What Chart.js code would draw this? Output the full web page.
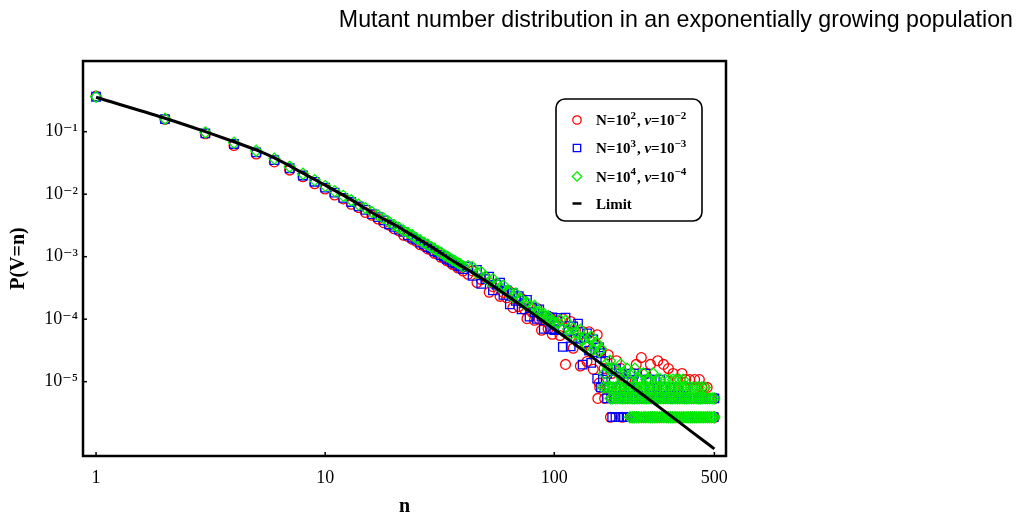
<!DOCTYPE html>
<html>
<head>
<meta charset="utf-8">
<script src="https://cdn.jsdelivr.net/npm/chart.js@4.4.1/dist/chart.umd.min.js"></script>
<style>
  html, body { margin: 0; padding: 0; background: #fff; }
  #wrap { width: 1030px; height: 517px; position: relative; }
</style>
</head>
<body>
<div id="wrap"><canvas id="chart"></canvas></div>
<script>
// axis ticks
const xTicks = [1, 10, 100, 500];
const xTickLabels = ['1', '10', '100', '500'];
const yTicks = [1e-1, 1e-2, 1e-3, 1e-4, 1e-5];
const yTickLabels = ['10\u207B\u00B9', '10\u207B\u00B2', '10\u207B\u00B3', '10\u207B\u2074', '10\u207B\u2075'];

// limit curve
const limitN = [1, 2, 3, 4, 5, 6, 8, 10, 13, 17, 20, 25, 30, 35, 40, 50, 60, 70, 80, 100, 120, 150, 200, 250, 300, 400, 500];
const limitP = [0.355, 0.164, 0.100, 0.069, 0.051, 0.038, 0.0217, 0.0139, 0.0081, 0.00447, 0.00327, 0.0020, 0.00134, 0.00092, 0.000685,
  0.000414, 0.000262, 0.000177, 0.000125, 6.9e-5, 4.25e-5, 2.32e-5, 1.06e-5, 5.75e-6, 3.48e-6, 1.56e-6, 8.4e-7];

// simulated points, n = 1..40
const nHead = [1, 2, 3, 4, 5, 6, 7, 8, 9, 10, 11, 12, 13, 14, 15, 16, 17, 18, 19, 20,
  21, 22, 23, 24, 25, 26, 27, 28, 29, 30, 31, 32, 33, 34, 35, 36, 37, 38, 39, 40];
const redHead = [0.370, 0.157, 0.0925, 0.0600, 0.0440, 0.0328, 0.0243, 0.0190, 0.0147, 0.0121, 0.0097, 0.0084, 0.0069, 0.0061, 0.0051,
  0.0046, 0.0040, 0.0035, 0.0032, 0.0028, 0.0026, 0.0022, 0.0021, 0.0019, 0.00176, 0.00155, 0.00149, 0.00133, 0.00127, 0.00113,
  0.00109, 0.00098, 0.00095, 0.00086, 0.00083, 0.00075, 0.00073, 0.00066, 0.00065, 0.00059];
const blueHead = [0.362, 0.159, 0.094, 0.0635, 0.0468, 0.0350, 0.0260, 0.0199, 0.0158, 0.0127, 0.0106, 0.0087, 0.0075, 0.0064, 0.0056,
  0.0048, 0.0043, 0.0038, 0.0033, 0.0030, 0.0027, 0.0025, 0.0022, 0.0020, 0.00188, 0.00168, 0.00158, 0.00142, 0.00136, 0.00122,
  0.00117, 0.00106, 0.00101, 0.00092, 0.00089, 0.00081, 0.00078, 0.00071, 0.00070, 0.00063];
const greenHead = [0.362, 0.161, 0.097, 0.0668, 0.0495, 0.0371, 0.0275, 0.0212, 0.0168, 0.0136, 0.0112, 0.0094, 0.0080, 0.0068, 0.0060,
  0.0052, 0.0046, 0.0041, 0.0036, 0.0032, 0.0029, 0.0026, 0.0024, 0.0022, 0.00198, 0.00182, 0.00167, 0.00156, 0.00143, 0.00133,
  0.00124, 0.00116, 0.00107, 0.00101, 0.00095, 0.00089, 0.00084, 0.00079, 0.00075, 0.00070];

// n = 42..100
const nMid = [42, 44, 46, 48, 50, 52, 54, 56, 58, 60, 62, 64, 66, 68, 70, 72, 74, 76, 78, 80, 82, 84, 86, 88, 90, 92, 94, 96, 98, 100];
const redMid = [5.24e-4, 5.92e-4, 3.87e-4, 4.30e-4, 4.69e-4, 2.70e-4, 3.31e-4, 3.65e-4, 2.32e-4, 2.68e-4, 2.20e-4, 2.74e-4, 1.53e-4, 2.10e-4, 1.59e-4,
  2.13e-4, 1.44e-4, 1.02e-4, 1.55e-4, 1.29e-4, 9.6e-5, 1.50e-4, 9.96e-5, 6.65e-5, 1.11e-4, 9.37e-5, 7.04e-5, 1.08e-4, 5.75e-5, 7.87e-5];
const blueMid = [6.90e-4, 4.92e-4, 6.13e-4, 3.66e-4, 4.38e-4, 4.80e-4, 2.89e-4, 3.57e-4, 3.85e-4, 2.44e-4, 2.90e-4, 1.73e-4, 2.60e-4, 1.96e-4, 2.34e-4,
  1.44e-4, 1.81e-4, 2.03e-4, 1.10e-4, 1.55e-4, 1.30e-4, 1.01e-4, 1.44e-4, 1.10e-4, 7.02e-5, 1.13e-4, 9.94e-5, 6.96e-5, 1.07e-4, 6.70e-5];
const greenMid = [7.07e-4, 6.79e-4, 5.47e-4, 5.67e-4, 4.80e-4, 3.99e-4, 4.37e-4, 3.74e-4, 3.20e-4, 3.45e-4, 2.77e-4, 2.74e-4, 2.26e-4, 2.58e-4, 2.09e-4,
  2.08e-4, 1.73e-4, 1.85e-4, 1.62e-4, 1.45e-4, 1.63e-4, 1.30e-4, 1.31e-4, 1.21e-4, 1.22e-4, 9.81e-5, 1.115e-4, 9.39e-5, 9.53e-5, 8.63e-5];

// n = 103..160
const nUpper = [103, 106, 109, 112, 115, 118, 121, 124, 127, 130, 133, 136, 139, 142, 145, 148, 151, 154, 157, 160];
const redUpper = [9.38e-5, 5.48e-5, 1.015e-4, 1.89e-5, 6.22e-5, 9.20e-5, 3.43e-5, 6.40e-5, 4.25e-5, 1.78e-5,
  6.36e-5, 4.15e-5, 2.10e-5, 6.27e-5, 3.17e-5, 1.58e-5, 3.93e-5, 5.63e-5, 9.5e-6, 3.06e-5];
const blueUpper = [1.052e-4, 6.90e-5, 3.60e-5, 1.059e-4, 6.51e-5, 3.66e-5, 7.68e-5, 4.86e-5, 8.49e-5, 5.03e-5,
  1.88e-5, 4.99e-5, 5.93e-5, 3.14e-5, 2.00e-5, 4.76e-5, 2.98e-5, 1.12e-5, 3.54e-5, 2.85e-5];
const greenUpper = [8.75e-5, 9.75e-5, 6.86e-5, 9.44e-5, 6.98e-5, 5.80e-5, 7.17e-5, 6.12e-5, 4.25e-5, 6.78e-5,
  4.61e-5, 4.99e-5, 3.74e-5, 4.98e-5, 5.27e-5, 3.30e-5, 3.76e-5, 4.08e-5, 3.01e-5, 3.35e-5];

// tail above n = 160: scattered points, then the one/two/three-count rows
const redTailN = [165, 172, 178, 187, 195, 205, 228, 240, 251, 263, 283, 300, 315, 330, 345, 361, 375, 390, 410, 430];
const redTailP = [1.62e-5, 2.7e-5, 1.35e-5, 2.16e-5, 1.62e-5, 1.08e-5, 1.89e-5, 2.43e-5, 1.35e-5, 1.89e-5, 2.16e-5, 1.89e-5, 1.62e-5,
  1.35e-5, 1.08e-5, 1.35e-5, 1.08e-5, 1.08e-5, 1.08e-5, 1.08e-5];
const blueTailN = [163, 167, 170, 176, 182, 186, 195, 200, 210, 215, 223, 232, 240, 250, 258, 275, 290];
const blueTailP = [1.08e-5, 2.16e-5, 1.35e-5, 1.62e-5, 1.08e-5, 1.62e-5, 1.35e-5, 1.08e-5, 1.08e-5, 1.35e-5, 1.35e-5, 1.08e-5,
  1.08e-5, 1.35e-5, 1.08e-5, 1.08e-5, 1.08e-5];
const greenTailN = [165, 168, 172, 175, 180, 185, 190, 195, 199, 203, 208, 213, 218, 225, 232, 238, 245, 252, 262, 270, 280, 290,
  305, 318, 330, 340, 352, 365];
const greenTailP = [1.35e-5, 1.89e-5, 1.62e-5, 2.16e-5, 1.08e-5, 1.62e-5, 1.35e-5, 1.89e-5, 1.08e-5, 1.35e-5, 1.62e-5, 1.08e-5,
  1.35e-5, 1.62e-5, 1.08e-5, 1.08e-5, 1.35e-5, 1.08e-5, 1.08e-5, 1.35e-5, 1.08e-5, 1.08e-5, 1.08e-5, 1.08e-5, 1.08e-5, 1.08e-5,
  1.08e-5, 1.08e-5];

const tailLevels = [2.7e-6, 5.4e-6, 8.1e-6];
const redLevel1 = [176, 198, 221, 247, 266, 290, 311, 337, 359, 384, 412, 437, 463, 488, 500];
const redLevel2 = [155, 166, 184, 203, 219, 238, 257, 279, 301, 326, 350, 377, 404, 432, 458, 481, 499];
const redLevel3 = [158, 171, 192, 213, 244, 273, 298, 335, 368, 420, 441, 452, 465];
const blueLevel1 = [179, 185, 192, 200, 207, 214, 222, 229, 237, 245, 253, 261, 270, 279, 288, 297, 307, 317, 327, 338,
  349, 360, 372, 384, 397, 410, 423, 437, 451, 466, 481, 496];
const blueLevel2 = [170, 177, 183, 190, 196, 203, 210, 218, 226, 234, 242, 250, 259, 268, 277, 287, 297, 307, 318, 329,
  340, 352, 364, 376, 389, 402, 415, 429, 443, 458, 473, 488, 500];
const blueLevel3 = [160, 166, 172, 179, 186, 194, 202, 215, 230, 246, 262, 281, 300, 322, 347, 375];
const greenLevel1 = [214, 219, 224, 229, 234, 240, 246, 251, 257, 263, 269, 275, 281, 288, 294, 301, 308, 315, 322, 329,
  337, 344, 352, 360, 368, 376, 384, 393, 401, 410, 419, 428, 437, 447, 456, 466, 476, 486, 496, 500];
const greenLevel2 = [176, 180, 185, 189, 194, 199, 204, 209, 214, 219, 224, 230, 235, 241, 247, 253, 259, 265, 272, 278,
  285, 292, 299, 306, 313, 321, 329, 337, 345, 353, 361, 370, 379, 388, 397, 406, 416, 426, 436, 446, 457, 467, 478, 489, 500];
const greenLevel3 = [163, 167, 172, 176, 181, 186, 191, 196, 201, 207, 212, 218, 224, 230, 236, 243, 249, 256, 263, 270,
  278, 286, 294, 302, 311, 320, 329, 339, 349, 359, 370, 381, 392, 404, 416, 428, 441, 455];

const seriesLabels = ['N=10\u00B2, \u03BD=10\u207B\u00B2', 'N=10\u00B3, \u03BD=10\u207B\u00B3', 'N=10\u2074, \u03BD=10\u207B\u2074', 'Limit'];

const serif = "'Liberation Serif', 'DejaVu Serif', 'Times New Roman', serif";

function pairs(ns, ps) {
  return ns.map((n, i) => ({ x: n, y: ps[i] }));
}
function row(ns, p) {
  return ns.map(n => ({ x: n, y: p }));
}
function series(head, mid, upper, tailN, tailP, l1, l2, l3) {
  return [].concat(pairs(nHead, head), pairs(nMid, mid), pairs(nUpper, upper), pairs(tailN, tailP),
    row(l1, tailLevels[0]), row(l2, tailLevels[1]), row(l3, tailLevels[2]));
}

// legend text pieces: [text, kind] kind 0 normal, 1 superscript, 2 italic
const legendParts = [
  [['N=10', 0], ['2', 1], [', ', 0], ['\u03BD', 2], ['=10', 0], ['\u22122', 1]],
  [['N=10', 0], ['3', 1], [', ', 0], ['\u03BD', 2], ['=10', 0], ['\u22123', 1]],
  [['N=10', 0], ['4', 1], [', ', 0], ['\u03BD', 2], ['=10', 0], ['\u22124', 1]],
  [['Limit', 0]]
];

// frame, inward ticks and boxed legend
const decorations = {
  id: 'decorations',
  afterDraw(chart) {
    const { ctx, chartArea: a, scales } = chart;
    ctx.save();
    ctx.strokeStyle = '#000';
    ctx.lineWidth = 1.5;
    scales.y.ticks.forEach(t => {
      const py = scales.y.getPixelForValue(t.value);
      ctx.beginPath(); ctx.moveTo(a.left, py); ctx.lineTo(a.left + 4, py); ctx.stroke();
    });
    scales.x.ticks.forEach(t => {
      const px = scales.x.getPixelForValue(t.value);
      ctx.beginPath(); ctx.moveTo(px, a.bottom); ctx.lineTo(px, a.bottom - 4); ctx.stroke();
    });
    ctx.lineWidth = 2.5;
    ctx.strokeRect(a.left, a.top, a.right - a.left, a.bottom - a.top);

    // legend box
    const bx = 556, by = 99, bw = 146, bh = 122, r = 9;
    ctx.beginPath();
    ctx.moveTo(bx + r, by);
    ctx.arcTo(bx + bw, by, bx + bw, by + bh, r);
    ctx.arcTo(bx + bw, by + bh, bx, by + bh, r);
    ctx.arcTo(bx, by + bh, bx, by, r);
    ctx.arcTo(bx, by, bx + bw, by, r);
    ctx.closePath();
    ctx.fillStyle = '#fff';
    ctx.fill();
    ctx.lineWidth = 1.6;
    ctx.stroke();

    const rows = [120, 148, 176.5, 203.5];
    const mx = 577;
    chart.data.datasets.forEach((ds, i) => {
      const y = rows[i];
      ctx.lineWidth = 1.3;
      ctx.strokeStyle = ds.borderColor;
      ctx.beginPath();
      if (ds.pointStyle === 'circle') {
        ctx.arc(mx, y, 4.2, 0, Math.PI * 2);
      } else if (ds.pointStyle === 'rect') {
        ctx.rect(mx - 3.7, y - 3.7, 7.4, 7.4);
      } else if (ds.pointStyle === 'rectRot') {
        ctx.moveTo(mx, y - 4.7); ctx.lineTo(mx + 4.7, y); ctx.lineTo(mx, y + 4.7); ctx.lineTo(mx - 4.7, y); ctx.closePath();
      } else {
        ctx.lineWidth = 2.5;
        ctx.moveTo(mx - 4.5, y); ctx.lineTo(mx + 4.5, y);
      }
      ctx.stroke();

      let tx = 596;
      ctx.fillStyle = '#000';
      ctx.textBaseline = 'alphabetic';
      ctx.textAlign = 'left';
      legendParts[i].forEach(([txt, kind]) => {
        let dy = 5;
        if (kind === 1) { ctx.font = 'bold 11px ' + serif; dy = -1.5; }
        else if (kind === 2) { ctx.font = 'italic bold 15px ' + serif; }
        else { ctx.font = 'bold 15px ' + serif; }
        ctx.fillText(txt, tx, y + dy);
        tx += ctx.measureText(txt).width + (kind === 1 ? 1 : 0);
      });
    });
    ctx.restore();
  }
};

const ctx = document.getElementById('chart').getContext('2d');
new Chart(ctx, {
  type: 'scatter',
  data: {
    datasets: [
      {
        label: seriesLabels[0],
        data: series(redHead, redMid, redUpper, redTailN, redTailP, redLevel1, redLevel2, redLevel3),
        pointStyle: 'circle', pointRadius: 4.9, borderColor: '#ff0000', backgroundColor: 'rgba(0,0,0,0)',
        borderWidth: 1.3, order: 3
      },
      {
        label: seriesLabels[1],
        data: series(blueHead, blueMid, blueUpper, blueTailN, blueTailP, blueLevel1, blueLevel2, blueLevel3),
        pointStyle: 'rect', pointRadius: 6, borderColor: '#0000ff', backgroundColor: 'rgba(0,0,0,0)',
        borderWidth: 1.3, order: 2
      },
      {
        label: seriesLabels[2],
        data: series(greenHead, greenMid, greenUpper, greenTailN, greenTailP, greenLevel1, greenLevel2, greenLevel3),
        pointStyle: 'rectRot', pointRadius: 5.5, borderColor: '#00ee00', backgroundColor: 'rgba(0,0,0,0)',
        borderWidth: 1.3, order: 1
      },
      {
        label: seriesLabels[3],
        data: pairs(limitN, limitP),
        showLine: true, pointRadius: 0, borderColor: '#000', borderWidth: 3,
        cubicInterpolationMode: 'monotone', order: 0
      }
    ]
  },
  options: {
    responsive: true,
    maintainAspectRatio: false,
    animation: false,
    layout: { padding: { left: 0, right: 17, top: 0, bottom: 0 } },
    plugins: {
      legend: { display: false },
      tooltip: { enabled: false },
      title: {
        display: true,
        text: 'Mutant number distribution in an exponentially growing population',
        align: 'end',
        color: '#000',
        font: { family: "'Liberation Sans', Arial, sans-serif", size: 23.2, weight: 'normal' },
        padding: { top: 7, bottom: 26.2 }
      }
    },
    scales: {
      x: {
        type: 'logarithmic',
        position: 'bottom',
        min: 0.877,
        max: 562,
        afterBuildTicks: s => { s.ticks = xTicks.map(v => ({ value: v })); },
        afterFit: s => { s.height = 61; },
        grid: { display: false, drawTicks: false },
        border: { display: false },
        ticks: {
          autoSkip: false, maxRotation: 0, padding: 11, color: '#000',
          font: { family: serif, size: 18 },
          callback: v => xTickLabels[xTicks.indexOf(v)]
        },
        title: { display: true, text: 'n', color: '#000', font: { family: serif, size: 20, weight: 'bold' }, padding: { top: 0, bottom: -2 } }
      },
      y: {
        type: 'logarithmic',
        position: 'left',
        min: 6.47e-7,
        max: 1.35,
        afterBuildTicks: s => { s.ticks = yTicks.map(v => ({ value: v })); },
        afterFit: s => { s.width = 83; },
        grid: { display: false, drawTicks: false },
        border: { display: false },
        ticks: {
          autoSkip: false, padding: 5, color: '#000',
          font: { family: serif, size: 18 },
          callback: v => yTickLabels[yTicks.indexOf(v)]
        },
        title: { display: true, text: 'P(V=n)', color: '#000', font: { family: serif, size: 20, weight: 'bold' }, padding: { top: 7, bottom: 0 } }
      },
      spacer: {
        type: 'linear',
        position: 'right',
        display: true,
        afterFit: s => { s.width = 287; },
        grid: { display: false, drawTicks: false },
        border: { display: false },
        ticks: { display: false }
      }
    }
  },
  plugins: [decorations]
});
</script>
</body>
</html>
